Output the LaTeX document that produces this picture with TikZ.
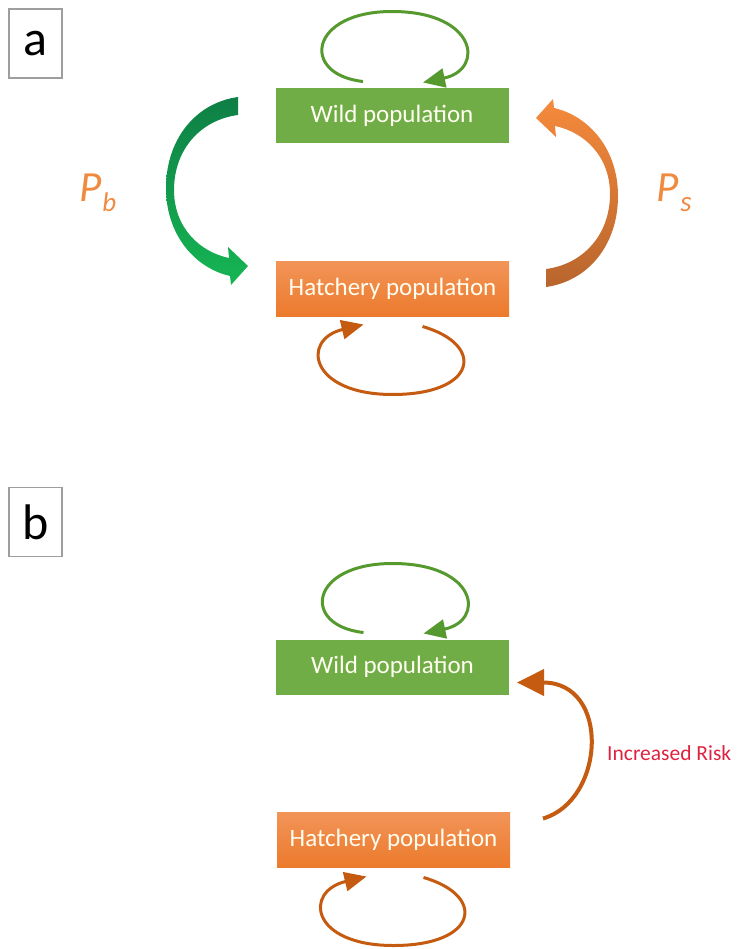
\documentclass[tikz,border=0pt]{standalone}
\usepackage{fontspec}
\setmainfont{Carlito}
\usetikzlibrary{arrows.meta,calc}

\definecolor{wildgreen}{HTML}{70AD47}
\definecolor{loopgreen}{HTML}{56992E}
\definecolor{hatchtop}{HTML}{F29458}
\definecolor{hatchbot}{HTML}{EC7A2C}
\definecolor{looporange}{HTML}{C55A11}
\definecolor{bandgreentop}{HTML}{0E7F45}
\definecolor{bandgreenbot}{HTML}{16B653}
\definecolor{bandorangetop}{HTML}{F58A3C}
\definecolor{bandorangebot}{HTML}{B8652D}
\definecolor{labelorange}{HTML}{F08A3E}
\definecolor{riskred}{HTML}{DE2240}

\begin{document}
\begin{tikzpicture}[
    x=1pt, y=-1pt,
    >=Stealth,
    popbox/.style={
        inner sep=0pt,
        outer sep=0pt,
        minimum width=233pt,
        minimum height=55pt,
        text=white!94!yellow,
        font=\fontsize{25}{29}\selectfont
    },
    wildbox/.style={
        popbox,
        fill=wildgreen
    },
    hatchbox/.style={
        popbox,
        top color=hatchtop,
        bottom color=hatchbot
    },
    panelbox/.style={
        draw=black!38,
        line width=1.2pt,
        minimum width=53pt,
        minimum height=69pt,
        inner sep=0pt,
        font=\fontsize{50}{50}\selectfont
    },
    greenloop/.style={
        draw=loopgreen,
        line width=3pt,
        -{Triangle[length=22pt,width=19pt]}
    },
    orangeloop/.style={
        draw=looporange,
        line width=3pt,
        -{Triangle[length=22pt,width=19pt]}
    },
    ratelabel/.style={
        text=labelorange,
        font=\fontsize{43}{43}\selectfont\itshape,
        inner sep=0pt
    }
]
\useasboundingbox (0,0) rectangle (738,949);

% Panel a
\node[panelbox] (lab_a) at (35.5,43.5) {a};
\node[wildbox] (wild_a) at (392,116) {Wild population};
\node[hatchbox] (hatch_a) at (392.5,289) {Hatchery population};

% Self loops
\draw[greenloop] ([xshift=-29pt,yshift=7pt]wild_a.north)
    .. controls +(-63,-7) and +(-83,0) .. ([yshift=77pt]wild_a.north)
    .. controls +(85,0) and +(62,-13) .. ([xshift=31pt,yshift=6pt]wild_a.north);
\draw[orangeloop] ([xshift=30pt,yshift=-10pt]hatch_a.south)
    .. controls +(63,18) and +(85,0) .. ([yshift=-78pt]hatch_a.south)
    .. controls +(-83,0) and +(-63,15) .. ([xshift=-29pt,yshift=-8pt]hatch_a.south);

% Curved band arrows
\shade[top color=bandgreentop, bottom color=bandgreenbot]
    (238,97) .. controls (195,103) and (166,140) .. (166,188)
    .. controls (166,235) and (195,268) .. (230,276)
    -- (231,285) -- (248,266) -- (228,247) -- (229,258)
    .. controls (200,252) and (174,228) .. (174,190)
    .. controls (174,150) and (200,120) .. (238,115) -- cycle;
\shade[top color=bandorangetop, bottom color=bandorangebot]
    (546,287) .. controls (589,281) and (618,244) .. (618,196)
    .. controls (618,149) and (589,116) .. (554,108)
    -- (553,99) -- (536,118) -- (556,137) -- (555,126)
    .. controls (584,132) and (610,156) .. (610,194)
    .. controls (610,234) and (584,264) .. (546,269) -- cycle;

\node[ratelabel, anchor=base west] (p_b) at (79,202)
    {P\kern1pt\raisebox{-10pt}{\fontsize{27}{27}\selectfont b}};
\node[ratelabel, anchor=base west] (p_s) at (656,202)
    {P\kern2pt\raisebox{-10pt}{\fontsize{29}{29}\selectfont s}};

% Panel b
\node[panelbox] (lab_b) at (35.5,522) {b};
\node[wildbox] (wild_b) at (392.5,667) {Wild population};
\node[hatchbox] (hatch_b) at (393.5,840) {Hatchery population};

\draw[greenloop] ([xshift=-29pt,yshift=7pt]wild_b.north)
    .. controls +(-63,-7) and +(-83,0) .. ([yshift=76pt]wild_b.north)
    .. controls +(85,0) and +(62,-13) .. ([xshift=31pt,yshift=6pt]wild_b.north);
\draw[orangeloop] ([xshift=30pt,yshift=-10pt]hatch_b.south)
    .. controls +(63,18) and +(85,0) .. ([yshift=-78pt]hatch_b.south)
    .. controls +(-83,0) and +(-63,15) .. ([xshift=-27pt,yshift=-9pt]hatch_b.south);

% Escape arrow
\draw[draw=looporange, line width=4pt, -{Triangle[length=27pt,width=26pt]}]
    ([xshift=33pt,yshift=-6pt]hatch_b.north east)
    .. controls +(62,-18) and +(94,0) .. ([xshift=8pt,yshift=12pt]wild_b.south east);
\node[text=riskred, font=\fontsize{21.5}{24}\selectfont, anchor=west, inner sep=0pt] (risk) at (607,753) {Increased Risk};

\end{tikzpicture}
\end{document}
